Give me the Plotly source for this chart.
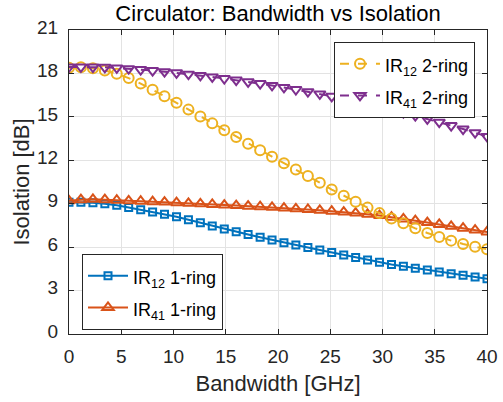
import plotly.graph_objects as go

bandwidth = [0.0, 1.14, 2.29, 3.43, 4.57, 5.71, 6.86, 8.0, 9.14, 10.29, 11.43, 12.57,
             13.71, 14.86, 16.0, 17.14, 18.29, 19.43, 20.57, 21.71, 22.86, 24.0, 25.14,
             26.29, 27.43, 28.57, 29.71, 30.86, 32.0, 33.14, 34.29, 35.43, 36.57, 37.71,
             38.86, 40.0]

ir12_1ring = [9.10, 9.10, 9.07, 9.00, 8.90, 8.74, 8.58, 8.43, 8.27, 8.10, 7.89, 7.68,
              7.46, 7.25, 7.06, 6.87, 6.68, 6.49, 6.31, 6.14, 5.97, 5.80, 5.63, 5.46,
              5.29, 5.12, 4.96, 4.80, 4.68, 4.55, 4.42, 4.29, 4.17, 4.05, 3.93, 3.82]

ir41_1ring = [9.20, 9.28, 9.30, 9.28, 9.24, 9.20, 9.17, 9.14, 9.11, 9.07, 9.03, 8.99,
              8.95, 8.91, 8.87, 8.83, 8.79, 8.75, 8.70, 8.65, 8.60, 8.54, 8.48, 8.42,
              8.35, 8.27, 8.18, 8.07, 7.95, 7.83, 7.70, 7.57, 7.44, 7.31, 7.18, 7.05]

ir12_2ring = [18.40, 18.42, 18.35, 18.20, 17.98, 17.68, 17.30, 16.88, 16.43, 15.97, 15.50,
              15.02, 14.55, 14.08, 13.61, 13.15, 12.70, 12.25, 11.80, 11.36, 10.92, 10.45,
              9.98, 9.55, 9.13, 8.73, 8.35, 7.98, 7.65, 7.30, 6.98, 6.70, 6.45, 6.22,
              6.02, 5.85]

ir41_2ring = [18.45, 18.45, 18.44, 18.42, 18.38, 18.33, 18.27, 18.20, 18.12, 18.04, 17.95,
              17.86, 17.76, 17.65, 17.54, 17.42, 17.30, 17.17, 17.03, 16.89, 16.74, 16.58,
              16.42, 16.25, 16.07, 15.89, 15.70, 15.50, 15.29, 15.08, 14.86, 14.63, 14.40,
              14.16, 13.91, 13.65]

x_ticks = [0, 5, 10, 15, 20, 25, 30, 35, 40]
y_ticks = [0, 3, 6, 9, 12, 15, 18, 21]

BLUE = "#0072BD"
ORANGE = "#D95319"
YELLOW = "#EDB120"
PURPLE = "#7E2F8E"
TXT = "#262626"
FONT = "Liberation Sans, Arial, sans-serif"


def leg(label):
    return '<span style="font-size:18px">' + label + '</span>'


fig = go.Figure()

fig.add_trace(go.Scatter(
    x=bandwidth, y=ir12_1ring, mode="lines+markers",
    name=leg("IR<sub>12</sub> 1-ring"), legend="legend2",
    line=dict(color=BLUE, width=2),
    marker=dict(symbol="square-open", size=7, color=BLUE, line=dict(width=2, color=BLUE))))

fig.add_trace(go.Scatter(
    x=bandwidth, y=ir41_1ring, mode="lines+markers",
    name=leg("IR<sub>41</sub> 1-ring"), legend="legend2",
    line=dict(color=ORANGE, width=2),
    marker=dict(symbol="triangle-up-open", size=10, color=ORANGE, line=dict(width=2, color=ORANGE))))

fig.add_trace(go.Scatter(
    x=bandwidth, y=ir12_2ring, mode="lines+markers",
    name=leg("IR<sub>12</sub> 2-ring"), legend="legend",
    line=dict(color=YELLOW, width=2, dash="dash"),
    marker=dict(symbol="circle-open", size=10, color=YELLOW, line=dict(width=2, color=YELLOW))))

fig.add_trace(go.Scatter(
    x=bandwidth, y=ir41_2ring, mode="lines+markers",
    name=leg("IR<sub>41</sub> 2-ring"), legend="legend",
    line=dict(color=PURPLE, width=2, dash="dash"),
    marker=dict(symbol="triangle-down-open", size=10, color=PURPLE, line=dict(width=2, color=PURPLE))))

axis_common = dict(
    showline=True, linecolor=TXT, linewidth=1, mirror="ticks",
    ticks="inside", ticklen=5, tickcolor=TXT,
    showgrid=True, gridcolor="#e3e3e3", gridwidth=1,
    zeroline=False, automargin=False,
    tickfont=dict(family=FONT, size=19, color=TXT),
)

fig.update_layout(
    width=503, height=402,
    margin=dict(l=69, r=16, t=30, b=68, autoexpand=False),
    paper_bgcolor="white", plot_bgcolor="white",
    font=dict(family=FONT, color=TXT),
    title=dict(text="Circulator: Bandwidth vs Isolation", x=(69 + 487) / 2 / 503, xanchor="center",
               y=1 - 13 / 402, yanchor="middle",
               font=dict(family=FONT, size=22, color="black")),
    xaxis=dict(range=[0, 40], tickvals=x_ticks, ticklabelstandoff=5,
               title=dict(text="Bandwidth [GHz]", font=dict(family=FONT, size=22, color=TXT), standoff=9),
               **axis_common),
    yaxis=dict(range=[0, 21], tickvals=y_ticks, ticklabelstandoff=6, ticklabelshift=-3,
               title=dict(text="Isolation [dB]", font=dict(family=FONT, size=22, color=TXT), standoff=1),
               **axis_common),
    legend=dict(x=(334 - 69) / 418, y=(334 - 42) / 304, xanchor="left", yanchor="top",
                bgcolor="white", bordercolor=TXT, borderwidth=1,
                font=dict(family=FONT, size=22, color="black"),
                tracegroupgap=0, itemwidth=40),
    legend2=dict(x=(82 - 69) / 418, y=(334 - 254) / 304, xanchor="left", yanchor="top",
                 bgcolor="white", bordercolor=TXT, borderwidth=1,
                 font=dict(family=FONT, size=22, color="black"),
                 tracegroupgap=0, itemwidth=40),
    showlegend=True,
)

fig.write_html("out.html", config={"displayModeBar": False},
               post_script="document.body.style.margin='0px';")
